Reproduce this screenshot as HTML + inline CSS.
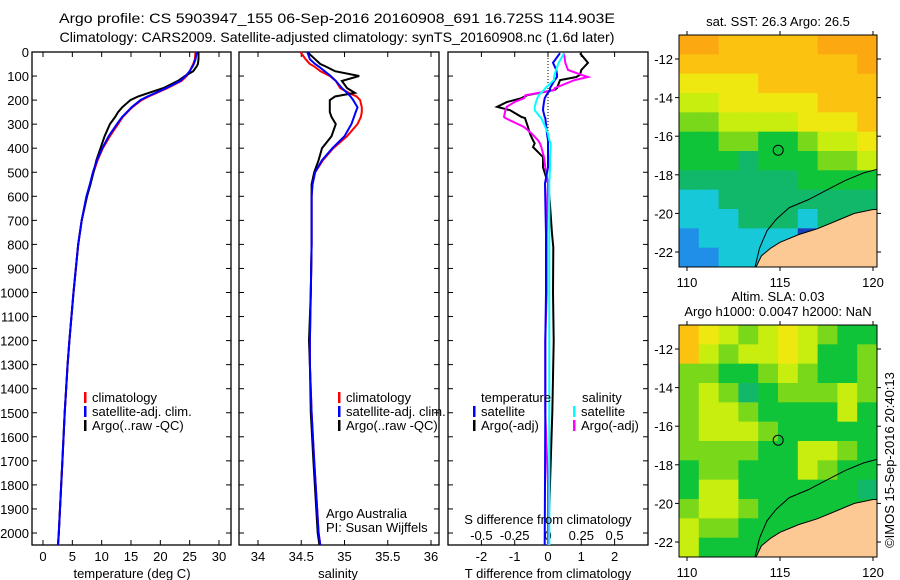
<!DOCTYPE html>
<html><head><meta charset="utf-8">
<style>
html,body{margin:0;padding:0;background:#fff;}
svg{display:block;font-family:"Liberation Sans",sans-serif;}
text{font-size:13px;fill:#000;}
</style></head>
<body>
<svg id="fig" width="900" height="580" xmlns="http://www.w3.org/2000/svg">
<text x="337" y="23" text-anchor="middle" textLength="556" lengthAdjust="spacingAndGlyphs" style="font-size:14px">Argo profile: CS 5903947_155 06-Sep-2016 20160908_691 16.725S 114.903E</text>
<text x="337" y="42" text-anchor="middle" textLength="555" lengthAdjust="spacingAndGlyphs" style="font-size:14px">Climatology: CARS2009. Satellite-adjusted climatology: synTS_20160908.nc (1.6d later)</text>
<text x="778" y="26" text-anchor="middle">sat. SST: 26.3 Argo: 26.5</text>
<text x="778" y="301" text-anchor="middle">Altim. SLA: 0.03</text>
<text x="778" y="316" text-anchor="middle">Argo h1000: 0.0047 h2000: NaN</text>
<text transform="translate(894,460) rotate(-90)" text-anchor="middle">©IMOS 15-Sep-2016 20:40:13</text>
<g id="g"></g>
</svg>
<script>
// ---------- data ----------
const depths = [0,30,50,60,80,100,120,150,170,185,200,230,250,270,300,350,400,450,500,550,600,700,800,1000,1200,1300,1500,1700,2000,2050];
const tempArgo = [26.5,26.5,26.4,26.2,25.6,24.2,23.0,20.5,18.0,16.2,14.9,13.5,12.8,12.3,11.4,10.5,9.8,9.1,8.6,8.1,7.5,6.6,6.0,5.2,4.5,4.2,3.7,3.3,2.7,2.55];
const tempClim = [26.0,25.9,25.6,25.4,25.0,24.5,23.6,21.2,19.4,18.0,16.8,15.2,14.4,13.6,12.8,11.4,10.2,9.3,8.6,8.0,7.5,6.6,6.0,5.2,4.5,4.2,3.7,3.3,2.7,2.55];
const tempSat  = [26.2,26.0,25.7,25.5,25.0,24.3,23.4,21.0,19.2,17.8,16.6,15.1,14.3,13.5,12.6,11.2,10.1,9.2,8.5,8.0,7.4,6.6,6.0,5.2,4.5,4.2,3.7,3.3,2.7,2.55];
const salArgo = [34.57,34.66,34.72,34.78,34.89,35.17,34.97,35.03,35.12,34.89,34.83,34.83,34.83,34.85,34.90,34.85,34.74,34.70,34.65,34.62,34.62,34.62,34.62,34.61,34.59,34.6,34.61,34.64,34.69,34.71];
const salClim = [34.49,34.55,34.60,34.65,34.72,34.83,34.90,34.95,35.05,35.14,35.18,35.20,35.20,35.19,35.15,35.03,34.87,34.75,34.66,34.63,34.62,34.62,34.62,34.61,34.60,34.6,34.62,34.65,34.70,34.72];
const salSat  = [34.57,34.60,34.66,34.70,34.77,34.84,34.90,34.97,35.03,35.07,35.10,35.15,35.13,35.11,35.08,35.0,34.86,34.74,34.66,34.63,34.62,34.62,34.62,34.61,34.60,34.6,34.62,34.65,34.70,34.72];
const dDepths = [5,45,75,95,104,117,150,158,180,192,208,228,242,270,275,312,340,367,380,395,437,480,546,617,755,812,1000,1200,1500,1800,2050];
const tDiffArgo = [0.96,1.2,1.0,0.96,0.85,0.36,0.27,0.2,-0.63,-0.8,-1.23,-1.53,-1.14,-0.8,-0.69,-0.6,-0.54,-0.45,-0.4,-0.45,-0.15,-0.15,0.0,0.05,0.12,0.16,0.15,0.17,0.13,0.06,0.0];
const tDiffSat  = [0.36,0.15,0.25,0.27,0.27,0.2,0.06,0.06,-0.05,-0.1,-0.12,-0.14,-0.15,-0.1,-0.08,-0.05,-0.03,0.0,0.0,0.0,0.0,0.0,-0.09,-0.08,-0.06,-0.06,-0.06,-0.08,-0.08,-0.09,-0.1];
const sDiffArgo = [0.12,0.13,0.15,0.25,0.30,0.2,0.05,0.045,-0.17,-0.18,-0.25,-0.31,-0.32,-0.33,-0.32,-0.18,-0.12,-0.075,-0.06,-0.05,-0.03,-0.02,0.0,-0.005,-0.01,-0.01,-0.01,-0.02,-0.02,0.0,0.0];
const sDiffSat  = [0.12,0.08,0.06,0.05,0.045,0.045,-0.02,-0.03,-0.07,-0.08,-0.09,-0.1,-0.1,-0.06,-0.05,-0.02,0.0,0.01,0.02,0.02,0.015,0.015,0.01,0.01,0.01,0.01,0.01,0.01,0.01,0.01,0.01];
const depthTicks = [0,100,200,300,400,500,600,700,800,900,1000,1100,1200,1300,1400,1500,1600,1700,1800,1900,2000];
const tempTicks = [0,5,10,15,20,25,30];
const salTicks = [34,34.5,35,35.5,36];
const tdTicks = [-2,-1,0,1,2];
const sdTicks = [-0.5,-0.25,0,0.25,0.5];
const sdTickLabels = ["-0.5","-0.25","0","0.25","0.5"];
const lonTicks = [110,115,120];
const latTicks = [-12,-14,-16,-18,-20,-22];
const argoLon = 114.903, argoLat = -16.725;
// SST level grid (rows north->south, cols west->east), 0=dark blue .. 9=orange
const sstGrid = [
"9988888999","8888888889","7777888888","6677777888","5566667778","4455445667",
"4443444556","3333334444","2233333333","2223332333","1222220333","1122220333"];
// SLA level grid
const slaGrid = [
"8765676544","8656676445","5544565445","5653455565","5665444464","5666544444",
"5555446654","4554446544","4664444443","5665444444","6554444444","6444444444"];
const levelColors = ["#1a3fb8","#1f8fe8","#16c8d8","#12b86a","#10c43a","#7ad81a","#c8ee10","#eee810","#fcc210","#fca810"];
const coastLon = [113.6,114.0,114.5,115.0,116.0,117.0,118.0,119.0,120.0,120.3,120.3];
const coastLat = [-23,-22.2,-21.8,-21.5,-21.1,-20.8,-20.4,-20.0,-19.8,-19.8,-23];
const isoLon = [113.6,113.9,114.3,114.8,115.5,116.5,117.5,118.5,119.5,120.3];
const isoLat = [-23,-21.8,-20.9,-20.3,-19.7,-19.3,-18.8,-18.3,-17.9,-17.7];

// ---------- helpers ----------
const NS="http://www.w3.org/2000/svg";
const G=document.getElementById('g');
function el(tag,attrs,parent){const e=document.createElementNS(NS,tag);for(const k in attrs)e.setAttribute(k,attrs[k]);(parent||G).appendChild(e);return e;}
function txt(x,y,s,anchor,parent){const t=el('text',{x:x,y:y,'text-anchor':anchor||'start'},parent);t.textContent=s;return t;}
const TOP=52, BOT=545;
const yD=d=>TOP+d*0.2405;
function lin(d0,d1,r0,r1){return v=>r0+(v-d0)*(r1-r0)/(d1-d0);}

function panel(name,x0,x1){
  const g=el('g',{});
  
  
  const r=el('rect',{x:x0,y:TOP,width:x1-x0,height:BOT-TOP,fill:'none',stroke:'#000','stroke-width':1.3},g);
  
  
  depthTicks.forEach(d=>{
    el('line',{x1:x0,x2:x0+5,y1:yD(d),y2:yD(d),stroke:'#000'},g);
    el('line',{x1:x1-5,x2:x1,y1:yD(d),y2:yD(d),stroke:'#000'},g);
  });
  return g;
}
function line(g,xs,ds,sx,color,name,w){
  const p=el('polyline',{points:xs.map((v,i)=>sx(v).toFixed(1)+','+yD(ds[i]).toFixed(1)).join(' '),fill:'none',stroke:color,'stroke-width':w||2},g);
  
  
}
function xTicks(g,ticks,labels,sx,ylab){
  ticks.forEach((t,i)=>{
    el('line',{x1:sx(t),x2:sx(t),y1:BOT,y2:BOT-5,stroke:'#000'},g);
    el('line',{x1:sx(t),x2:sx(t),y1:TOP,y2:TOP+5,stroke:'#000'},g);
    const tl=txt(sx(t),ylab,labels[i],'middle',g);
    
    
  });
}
function legend(g,x,y,items){
  items.forEach((it,i)=>{
    el('rect',{x:x,y:y+i*14-10,width:2.5,height:11,fill:it[0]},g);
    const t=txt(x+8,y+i*14,it[1],'start',g);
    
    
  });
}

// y tick labels
depthTicks.forEach(d=>{
  const t=txt(29,yD(d)+5,String(d),'end');
  
  
});

// panel 1 temperature
const sT=lin(0,30,43,219);
const p1=panel('temperature-panel',32,231);
xTicks(p1,tempTicks,tempTicks.map(String),sT,561);
line(p1,tempClim,depths,sT,'#f00','temp-climatology-line');
line(p1,tempArgo,depths,sT,'#000','temp-argo-line');
line(p1,tempSat,depths,sT,'#00f','temp-satellite-line');
legend(p1,84,402,[['#f00','climatology'],['#00f','satellite-adj. clim.'],['#000','Argo(..raw -QC)']]);
const xl1=txt(132,578,'temperature (deg C)','middle');

// panel 2 salinity
const sS=lin(34,36,258,431);
const p2=panel('salinity-panel',239,439);
xTicks(p2,salTicks,salTicks.map(String),sS,561);
line(p2,salClim,depths,sS,'#f00','sal-climatology-line');
line(p2,salArgo,depths,sS,'#000','sal-argo-line');
line(p2,salSat,depths,sS,'#00f','sal-satellite-line');
legend(p2,338,402,[['#f00','climatology'],['#00f','satellite-adj. clim.'],['#000','Argo(..raw -QC)']]);
txt(326,518,'Argo Australia','start',p2);
txt(326,532,'PI: Susan Wijffels','start',p2);
const xl2=txt(338,578,'salinity','middle');

// panel 3 differences
const sTD=lin(0,1,548,581.3);
const sSD=lin(0,0.25,548,581.3);
const p3=panel('difference-panel',448,648);
xTicks(p3,tdTicks,tdTicks.map(String),sTD,561);
sdTicks.forEach((t,i)=>{const tl=txt(sSD(t),540,sdTickLabels[i],'middle',p3);});
el('line',{x1:sTD(0),x2:sTD(0),y1:TOP,y2:yD(420),stroke:'#000','stroke-dasharray':'1,2'},p3);
line(p3,tDiffArgo,dDepths,sTD,'#000','tdiff-argo-line');
line(p3,sDiffArgo,dDepths,sSD,'#f0f','sdiff-argo-line');
line(p3,tDiffSat,dDepths,sTD,'#00f','tdiff-satellite-line');
line(p3,sDiffSat,dDepths,sSD,'#0ff','sdiff-satellite-line');
txt(481,402,'temperature','start',p3);
legend(p3,473,416,[['#00f','satellite'],['#000','Argo(-adj)']]);
txt(582,402,'salinity','start',p3);
legend(p3,573,416,[['#0ff','satellite'],['#f0f','Argo(-adj)']]);
txt(548,524,'S difference from climatology','middle',p3);
const xl3=txt(548,578,'T difference from climatology','middle');

// maps
function map(name,y0,y1,grid){
  const x0=679,x1=877;
  const sx=lin(110,120,687,873);
  const lat12=y0+24, lat22=y0+217;
  const sy=lin(-12,-22,lat12,lat22);
  const g=el('g',{});
  
  
  const cp=el('clipPath',{id:'clip'+name},g);
  el('rect',{x:x0,y:y0,width:x1-x0,height:y1-y0},cp);
  const cg=el('g',{'clip-path':'url(#clip'+name+')'},g);
  const rows=grid.length, cols=grid[0].length;
  const cw=(x1-x0)/cols, ch=(y1-y0)/rows;
  grid.forEach((row,r)=>{for(let c=0;c<cols;c++){
    const cell=el('rect',{x:x0+c*cw,y:y0+r*ch,width:cw+0.5,height:ch+0.5,fill:levelColors[+row[c]]},cg);
    
    
  }});
  const land=el('polygon',{points:coastLon.map((v,i)=>sx(v)+','+sy(coastLat[i])).join(' '),fill:'#fcc994',stroke:'#000','stroke-width':1},cg);
  
  
  const iso=el('polyline',{points:isoLon.map((v,i)=>sx(v)+','+sy(isoLat[i])).join(' '),fill:'none',stroke:'#000','stroke-width':1},cg);
  
  
  const mk=el('circle',{cx:sx(argoLon),cy:sy(argoLat),r:5,fill:'none',stroke:'#000','stroke-width':1},g);
  
  
  el('rect',{x:x0,y:y0,width:x1-x0,height:y1-y0,fill:'none',stroke:'#000','stroke-width':1},g);
  lonTicks.forEach(t=>{
    el('line',{x1:sx(t),x2:sx(t),y1:y0-4,y2:y0,stroke:'#000'},g);
    el('line',{x1:sx(t),x2:sx(t),y1:y1,y2:y1+4,stroke:'#000'},g);
    const tl=txt(sx(t),y1+20,String(t),'middle',g);
  });
  latTicks.forEach(t=>{
    el('line',{x1:x0-4,x2:x0,y1:sy(t),y2:sy(t),stroke:'#000'},g);
    el('line',{x1:x1,x2:x1+4,y1:sy(t),y2:sy(t),stroke:'#000'},g);
    const tl=txt(x0-6,sy(t)+5,String(t),'end',g);
  });
}
map('sst-map',35,267,sstGrid);
map('sla-map',325,557,slaGrid);
</script>
</body></html>
